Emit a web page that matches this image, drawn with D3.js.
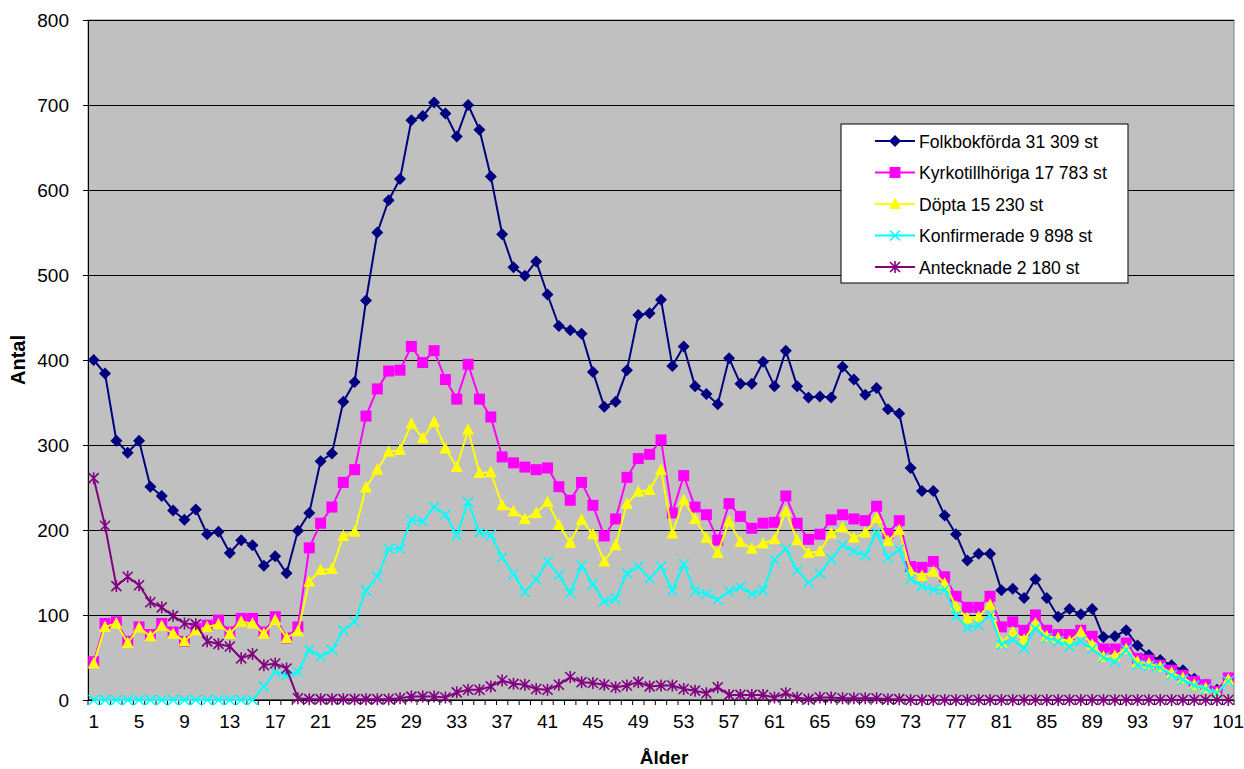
<!DOCTYPE html>
<html>
<head>
<meta charset="utf-8">
<script src="https://cdn.jsdelivr.net/npm/d3@7"></script>
<style>
  body { margin: 0; background: #fff; }
  svg { display: block; font-family: "Liberation Sans", Arial, sans-serif; }
</style>
</head>
<body>
<svg width="1244" height="769"></svg>
<script>
const ages = d3.range(1, 102);
const yTicks = [0, 100, 200, 300, 400, 500, 600, 700, 800];

const folkbokforda = [400,384,305,291,305,251,240,223,212,224,195,198,173,188,182,158,169,149,199,220,
  281,290,351,374,470,550,588,613,682,687,703,690,663,700,671,616,548,509,499,516,
  477,440,435,431,386,345,351,388,453,455,471,393,416,369,360,348,402,372,372,398,
  369,411,369,356,357,356,392,377,359,367,342,337,273,246,246,217,195,164,172,172,
  129,131,120,142,120,98,107,101,107,74,75,82,64,53,47,41,35,25,18,12,25];
const kyrkotillhoriga = [45,90,92,69,86,77,90,80,69,84,88,94,80,96,96,80,98,73,86,179,
  208,227,256,271,334,366,387,388,416,397,411,377,354,395,354,333,286,279,274,271,
  273,251,235,256,229,193,213,262,284,289,306,220,264,227,218,188,231,216,202,208,
  209,240,208,189,195,212,218,213,211,228,196,211,157,156,163,145,122,109,109,122,
  86,92,82,100,82,77,77,82,75,60,60,67,49,47,41,35,29,22,18,10,26];
const dopta = [43,86,90,67,85,75,87,78,69,82,86,89,78,92,90,78,94,73,81,139,
  153,154,193,198,250,271,292,294,325,308,327,296,274,318,267,268,229,222,213,220,
  233,206,185,212,195,163,182,231,245,247,271,196,235,213,191,173,210,186,178,184,
  189,222,188,173,175,196,203,191,197,214,187,200,151,146,151,137,110,96,98,112,
  67,80,71,90,75,73,69,80,65,51,52,60,45,43,39,32,26,18,14,8,24];
const konfirmerade = [0,0,0,0,0,0,0,0,0,0,0,0,0,0,0,16,33,29,33,59,
  51,59,82,92,129,145,178,178,212,210,227,218,194,233,197,194,168,148,127,142,
  163,147,126,158,136,116,119,149,157,143,157,129,160,128,125,118,128,133,125,129,
  165,178,153,138,149,166,182,175,170,197,167,177,142,134,130,130,99,85,88,100,
  65,71,61,84,73,69,63,69,60,50,45,59,41,40,38,29,24,17,13,8,22];
const antecknade = [261,205,134,145,135,115,109,99,90,89,69,66,63,49,54,41,43,37,2,1,
  1,1,1,1,1,1,1,2,4,4,4,3,9,12,12,16,23,19,18,13,
  12,18,27,21,20,18,15,17,21,16,17,17,13,11,8,15,6,6,6,6,
  3,8,3,1,3,3,2,2,2,2,1,1,0,0,0,0,0,0,0,0,
  0,0,0,0,0,0,0,0,0,0,0,0,0,0,0,0,0,0,0,0,0];

const seriesNames = ["Folkbokförda 31 309 st", "Kyrkotillhöriga 17 783 st", "Döpta 15 230 st",
  "Konfirmerade 9 898 st", "Antecknade 2 180 st"];
const seriesValues = [folkbokforda, kyrkotillhoriga, dopta, konfirmerade, antecknade];
const seriesColors = ["#000080", "#FF00FF", "#FFFF00", "#00FFFF", "#800080"];
const seriesMarkers = ["diamond", "square", "triangle", "x", "star"];

const svg = d3.select("svg");
const plot = { left: 88, top: 20, right: 1234, bottom: 700 };

const x = d3.scaleBand().domain(ages).range([plot.left, plot.right]).padding(0);
const y = d3.scaleLinear().domain([0, 800]).range([plot.bottom, plot.top]);
const cx = (a) => x(a) + x.bandwidth() / 2;

// plot background
svg.append("rect")
  .attr("x", plot.left).attr("y", plot.top)
  .attr("width", plot.right - plot.left).attr("height", plot.bottom - plot.top)
  .attr("fill", "#C0C0C0").attr("stroke", "#808080").attr("stroke-width", 1);

// gridlines
svg.append("g")
  .attr("transform", `translate(${plot.left},0)`)
  .call(d3.axisLeft(y).tickValues(yTicks).tickSize(-(plot.right - plot.left)).tickFormat(""))
  .call((g) => g.select(".domain").remove())
  .selectAll("line").attr("stroke", "#000").attr("stroke-width", 1);

// y axis
const yAxis = svg.append("g")
  .attr("transform", `translate(${plot.left},0)`)
  .call(d3.axisLeft(y).tickValues(yTicks).tickSize(5).tickPadding(14).tickSizeOuter(0));
yAxis.select(".domain").attr("stroke", "#000");
yAxis.selectAll("text").attr("font-size", 19).attr("fill", "#000")
  .attr("font-family", "Liberation Sans, Arial, sans-serif");

// x axis: ticks at category boundaries, labels every 4th category
const xg = svg.append("g");
xg.append("line")
  .attr("x1", plot.left).attr("x2", plot.right)
  .attr("y1", plot.bottom).attr("y2", plot.bottom)
  .attr("stroke", "#000");
xg.selectAll("line.tick")
  .data(ages.concat([null]))
  .enter().append("line")
  .attr("class", "tick")
  .attr("x1", (d) => (d === null ? plot.right : x(d)))
  .attr("x2", (d) => (d === null ? plot.right : x(d)))
  .attr("y1", plot.bottom).attr("y2", plot.bottom + 5)
  .attr("stroke", "#000");
xg.selectAll("text")
  .data(ages.filter((a) => (a - 1) % 4 === 0))
  .enter().append("text")
  .attr("x", cx)
  .attr("y", plot.bottom + 28)
  .attr("text-anchor", "middle")
  .attr("font-size", 19)
  .text((d) => d);

// axis titles
svg.append("text")
  .attr("x", 664).attr("y", 764)
  .attr("text-anchor", "middle")
  .attr("font-size", 19).attr("font-weight", "bold")
  .text("Ålder");
svg.append("text")
  .attr("transform", "translate(25,360) rotate(-90)")
  .attr("text-anchor", "middle")
  .attr("font-size", 20).attr("font-weight", "bold")
  .text("Antal");

// markers
const markerPath = (type) => {
  switch (type) {
    case "diamond": return "M0,-6L6,0L0,6L-6,0Z";
    case "square": return "M-5.5,-5.5H5.5V5.5H-5.5Z";
    case "triangle": return "M0,-6.5L6,5L-6,5Z";
    case "x": return "M-5,-5L5,5M-5,5L5,-5";
    case "star": return "M-5,-5L5,5M-5,5L5,-5M0,-6V6";
  }
};
const filled = (type) => type === "diamond" || type === "square" || type === "triangle";

const line = d3.line().x((d) => cx(d.age)).y((d) => y(d.v));

seriesValues.forEach((vals, i) => {
  const pts = ages.map((a, j) => ({ age: a, v: vals[j] }));
  const g = svg.append("g");
  g.append("path")
    .datum(pts)
    .attr("d", line)
    .attr("fill", "none")
    .attr("stroke", seriesColors[i])
    .attr("stroke-width", 2);
  g.selectAll("path.m")
    .data(pts)
    .enter().append("path")
    .attr("class", "m")
    .attr("transform", (d) => `translate(${cx(d.age)},${y(d.v)})`)
    .attr("d", markerPath(seriesMarkers[i]))
    .attr("fill", filled(seriesMarkers[i]) ? seriesColors[i] : "none")
    .attr("stroke", seriesColors[i])
    .attr("stroke-width", filled(seriesMarkers[i]) ? 0 : 1.6);
});

// legend
const lg = svg.append("g").attr("transform", "translate(841,124)");
lg.append("rect")
  .attr("width", 287).attr("height", 159)
  .attr("fill", "#fff").attr("stroke", "#000").attr("stroke-width", 1);
seriesNames.forEach((name, i) => {
  const ly = 17 + i * 31.5;
  const row = lg.append("g").attr("transform", `translate(0,${ly})`);
  row.append("line")
    .attr("x1", 34).attr("x2", 74)
    .attr("stroke", seriesColors[i]).attr("stroke-width", 2);
  row.append("path")
    .attr("transform", "translate(54,0)")
    .attr("d", markerPath(seriesMarkers[i]))
    .attr("fill", filled(seriesMarkers[i]) ? seriesColors[i] : "none")
    .attr("stroke", seriesColors[i])
    .attr("stroke-width", filled(seriesMarkers[i]) ? 0 : 1.6);
  row.append("text")
    .attr("x", 78).attr("y", 6.5)
    .attr("font-size", 17.6)
    .text(name);
});
</script>
</body>
</html>
